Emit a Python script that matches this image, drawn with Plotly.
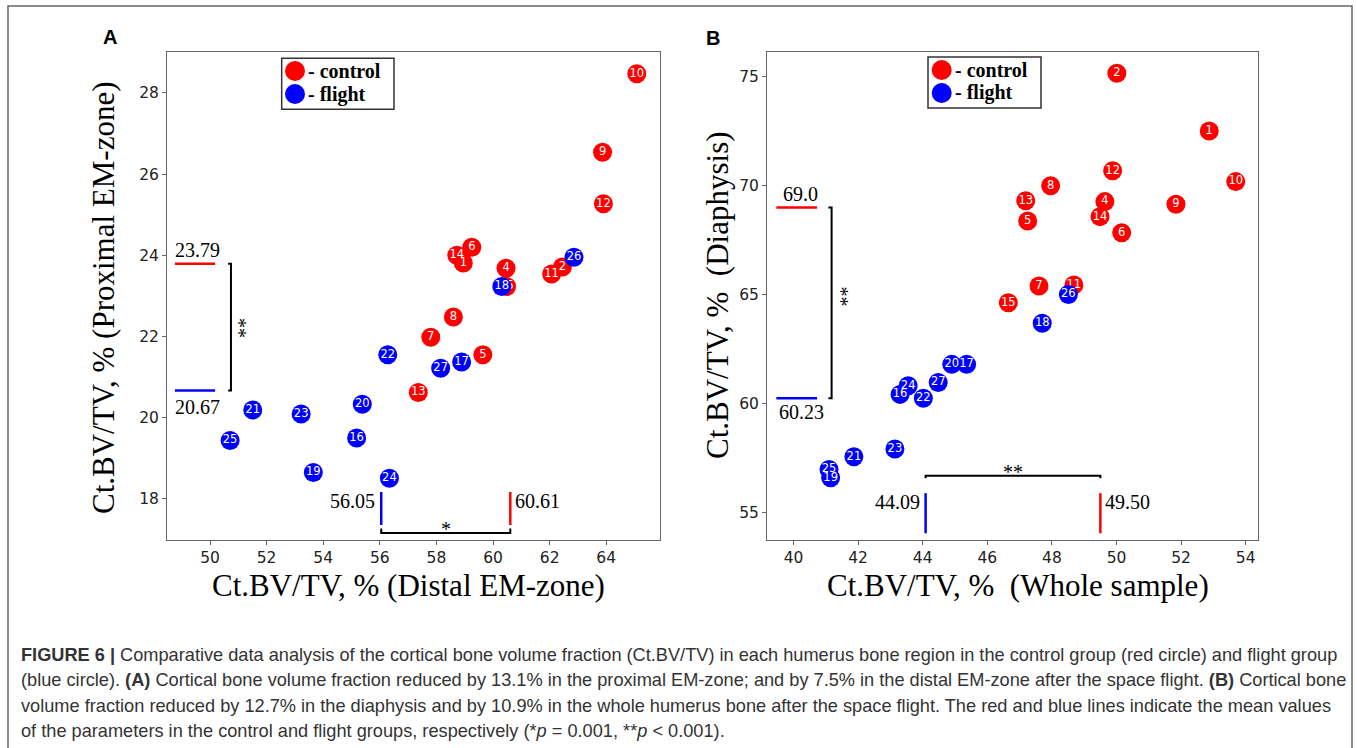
import plotly.graph_objects as go

W, H = 1357, 748

# ---------------- data ----------------
ids_control = [1, 2, 4, 5, 6, 7, 8, 9, 10, 11, 12, 13, 14, 15]
ids_flight = [16, 17, 18, 19, 20, 21, 22, 23, 24, 25, 26, 27]

# Panel A: distal EM-zone (x) vs proximal EM-zone (y)
a_control_x = [58.95, 62.45, 60.46, 59.64, 59.25, 57.80, 58.60, 63.87, 65.08, 62.07, 63.90, 57.36, 58.72, 60.48]
a_control_y = [23.81, 23.71, 23.68, 21.55, 24.20, 21.98, 22.48, 26.54, 28.47, 23.54, 25.27, 20.62, 24.00, 23.23]
a_flight_x = [55.18, 58.89, 60.31, 53.65, 55.38, 51.51, 56.28, 53.22, 56.34, 50.71, 62.86, 58.15]
a_flight_y = [19.50, 21.37, 23.23, 18.65, 20.33, 20.19, 21.55, 20.09, 18.51, 19.44, 23.95, 21.22]

# Panel B: whole sample (x) vs diaphysis (y)
b_control_x = [52.87, 50.01, 49.64, 47.25, 50.16, 47.60, 47.96, 51.84, 53.69, 48.68, 49.88, 47.19, 49.49, 46.65]
b_control_y = [72.52, 75.17, 69.27, 68.38, 67.84, 65.39, 70.00, 69.15, 70.19, 65.44, 70.69, 69.31, 68.58, 64.62]
b_flight_x = [43.30, 45.36, 47.70, 41.15, 44.90, 41.87, 44.02, 43.14, 43.55, 41.10, 48.51, 44.48]
b_flight_y = [60.41, 61.79, 63.68, 56.58, 61.79, 57.54, 60.23, 57.90, 60.81, 56.96, 65.00, 60.96]

# group means [control, flight]
a_mean_y = [23.79, 20.67]
a_mean_x = [60.61, 56.05]
b_mean_y = [69.0, 60.23]
b_mean_x = [49.50, 44.09]
a_mean_y_labels = ["23.79", "20.67"]
a_mean_x_labels = ["60.61", "56.05"]
b_mean_y_labels = ["69.0", "60.23"]
b_mean_x_labels = ["49.50", "44.09"]

a_xticks = [50, 52, 54, 56, 58, 60, 62, 64]
a_yticks = [18, 20, 22, 24, 26, 28]
b_xticks = [40, 42, 44, 46, 48, 50, 52, 54]
b_yticks = [55, 60, 65, 70, 75]

RED = "#ff0000"
BLUE = "#0000ff"
SERIF = "Liberation Serif, Times New Roman, serif"
SANS = "DejaVu Sans"


def px(x):
    return x / W


def py(y):
    return 1 - y / H


fig = go.Figure()


def add_points(xs, ys, ids, color, xa, ya):
    fig.add_trace(go.Scatter(
        x=xs, y=ys, text=[str(i) for i in ids], mode="markers+text",
        marker=dict(size=19, color=color, line=dict(width=0)),
        textposition="middle center",
        textfont=dict(color="white", size=11.5, family=SANS),
        xaxis=xa, yaxis=ya, showlegend=False, hoverinfo="skip", cliponaxis=False,
    ))


add_points(a_control_x, a_control_y, ids_control, RED, "x", "y")
add_points(a_flight_x, a_flight_y, ids_flight, BLUE, "x", "y")
add_points(b_control_x, b_control_y, ids_control, RED, "x2", "y2")
add_points(b_flight_x, b_flight_y, ids_flight, BLUE, "x2", "y2")

ydom = [py(539.5), py(51.5)]
axis_common = dict(showgrid=False, zeroline=False, showline=True, mirror=True,
                   linecolor="#666666", linewidth=1, ticks="outside", ticklen=4,
                   tickcolor="#666666", tickfont=dict(family=SANS, size=15.5, color="#222222"),
                   automargin=False, fixedrange=True)

fig.update_layout(
    width=W, height=H, margin=dict(l=0, r=0, t=0, b=0),
    paper_bgcolor="white", plot_bgcolor="white", showlegend=False,
    xaxis=dict(domain=[px(167), px(660)], range=[48.48, 65.90], tickvals=a_xticks, anchor="y", **axis_common),
    yaxis=dict(domain=ydom, range=[17.0, 29.02], tickvals=a_yticks, anchor="x", **axis_common),
    xaxis2=dict(domain=[px(767), px(1258)], range=[39.18, 54.38], tickvals=b_xticks, anchor="y2", **axis_common),
    yaxis2=dict(domain=ydom, range=[53.74, 76.17], tickvals=b_yticks, anchor="x2", **axis_common),
)

shapes = []
annots = []

# outer frame
shapes.append(dict(type="rect", xref="paper", yref="paper", x0=px(8), x1=px(1352), y0=py(760), y1=py(6),
                   line=dict(color="#666666", width=1.5), layer="below"))


def seg(xref, yref, x0, y0, x1, y1, color, width=2.5):
    shapes.append(dict(type="line", xref=xref, yref=yref, x0=x0, y0=y0, x1=x1, y1=y1,
                       line=dict(color=color, width=width)))


def path(xref, yref, pts, width=2):
    d = "M " + " L ".join(f"{x},{y}" for x, y in pts)
    shapes.append(dict(type="path", xref=xref, yref=yref, path=d, line=dict(color="black", width=width)))


def txt(xref, yref, x, y, s, size=20, xanchor="center", yanchor="middle", angle=0, family=SERIF, color="black"):
    annots.append(dict(xref=xref, yref=yref, x=x, y=y, text=s, showarrow=False, xanchor=xanchor,
                       yanchor=yanchor, textangle=angle, font=dict(family=family, size=size, color=color)))


# ---- Panel A mean lines ----
cols = [RED, BLUE]
for v, c in zip(a_mean_y, cols):
    seg("x", "y", 48.76, v, 50.18, v, c)
txt("x", "y", 49.55, 24.13, a_mean_y_labels[0])
txt("x", "y", 49.55, 20.27, a_mean_y_labels[1])
path("x", "y", [(50.64, a_mean_y[0]), (50.74, a_mean_y[0]), (50.74, a_mean_y[1]), (50.64, a_mean_y[1])])
txt("x", "y", 51.02, 22.21, "**", size=20, angle=90)

for v, c in zip(a_mean_x, cols):
    seg("x", "y", v, 17.36, v, 18.17, c)
txt("x", "y", 60.70, 17.96, a_mean_x_labels[0], xanchor="left")
txt("x", "y", 55.90, 17.96, a_mean_x_labels[1], xanchor="right")
path("x", "y", [(a_mean_x[1], 17.27), (a_mean_x[1], 17.16), (a_mean_x[0], 17.16), (a_mean_x[0], 17.27)])
txt("x", "y", 58.33, 17.27, "*", size=20)

# ---- Panel B mean lines ----
for v, c in zip(b_mean_y, cols):
    seg("x2", "y2", 39.47, v, 40.73, v, c)
txt("x2", "y2", 40.22, 69.62, b_mean_y_labels[0])
txt("x2", "y2", 40.24, 59.61, b_mean_y_labels[1])
path("x2", "y2", [(41.08, b_mean_y[0]), (41.18, b_mean_y[0]), (41.18, b_mean_y[1]), (41.08, b_mean_y[1])])
txt("x2", "y2", 41.46, 64.93, "**", size=20, angle=90)

for v, c in zip(b_mean_x, cols):
    seg("x2", "y2", v, 54.03, v, 55.87, c)
txt("x2", "y2", 49.58, 55.47, b_mean_x_labels[0], xanchor="left")
txt("x2", "y2", 43.98, 55.47, b_mean_x_labels[1], xanchor="right")
path("x2", "y2", [(b_mean_x[1], 56.55), (b_mean_x[1], 56.67), (b_mean_x[0], 56.67), (b_mean_x[0], 56.55)])
txt("x2", "y2", 46.80, 56.85, "**", size=20)

# ---- legends (drawn) ----
for (bx0, by0, bx1, by1, cx, ty1, ty2) in [(281.7, 58.3, 394, 109.3, 295, 71, 94),
                                            (928, 57, 1041, 108, 941.7, 70, 93)]:
    shapes.append(dict(type="rect", xref="paper", yref="paper", x0=px(bx0), x1=px(bx1), y0=py(by1), y1=py(by0),
                       line=dict(color="#333333", width=1.5), fillcolor="white"))
    for yy, c in [(ty1, RED), (ty2, BLUE)]:
        shapes.append(dict(type="circle", xref="paper", yref="paper", xsizemode="pixel", ysizemode="pixel",
                           xanchor=px(cx), yanchor=py(yy), x0=-10, x1=10, y0=-10, y1=10,
                           fillcolor=c, line=dict(width=0)))
    txt("paper", "paper", px(cx + 11), py(ty1), "<b>- control</b>", xanchor="left")
    txt("paper", "paper", px(cx + 11), py(ty2), "<b>- flight</b>", xanchor="left")

# ---- axis titles ----
txt("paper", "paper", px(408), py(585), "Ct.BV/TV, % (Distal EM-zone)", size=31)
txt("paper", "paper", px(1018), py(585), "Ct.BV/TV, %  (Whole sample)", size=31)
txt("paper", "paper", px(103), py(298), "Ct.BV/TV, % (Proximal EM-zone)", size=31, angle=-90)
txt("paper", "paper", px(717), py(295), "Ct.BV/TV, %  (Diaphysis)", size=31, angle=-90)

# ---- panel letters ----
txt("paper", "paper", px(110), py(37), "<b>A</b>", size=20, family="Liberation Sans, Arial, sans-serif")
txt("paper", "paper", px(713), py(38), "<b>B</b>", size=20, family="Liberation Sans, Arial, sans-serif")

# ---- caption ----
caption = [
    "<b>FIGURE 6 |</b> Comparative data analysis of the cortical bone volume fraction (Ct.BV/TV) in each humerus bone region in the control group (red circle) and flight group",
    "(blue circle). <b>(A)</b> Cortical bone volume fraction reduced by 13.1% in the proximal EM-zone; and by 7.5% in the distal EM-zone after the space flight. <b>(B)</b> Cortical bone",
    "volume fraction reduced by 12.7% in the diaphysis and by 10.9% in the whole humerus bone after the space flight. The red and blue lines indicate the mean values",
    "of the parameters in the control and flight groups, respectively (*<i>p</i> = 0.001, **<i>p</i> &lt; 0.001).",
]
for i, line in enumerate(caption):
    txt("paper", "paper", px(19), py(655 + 25.3 * i), line, size=18.2, xanchor="left",
        family="Liberation Sans, Arial, sans-serif", color="#333333")

fig.update_layout(shapes=shapes, annotations=annots)

fig.write_html("out.html", config={"displayModeBar": False},
               post_script="document.body.style.margin='0';document.body.style.overflow='hidden';")
